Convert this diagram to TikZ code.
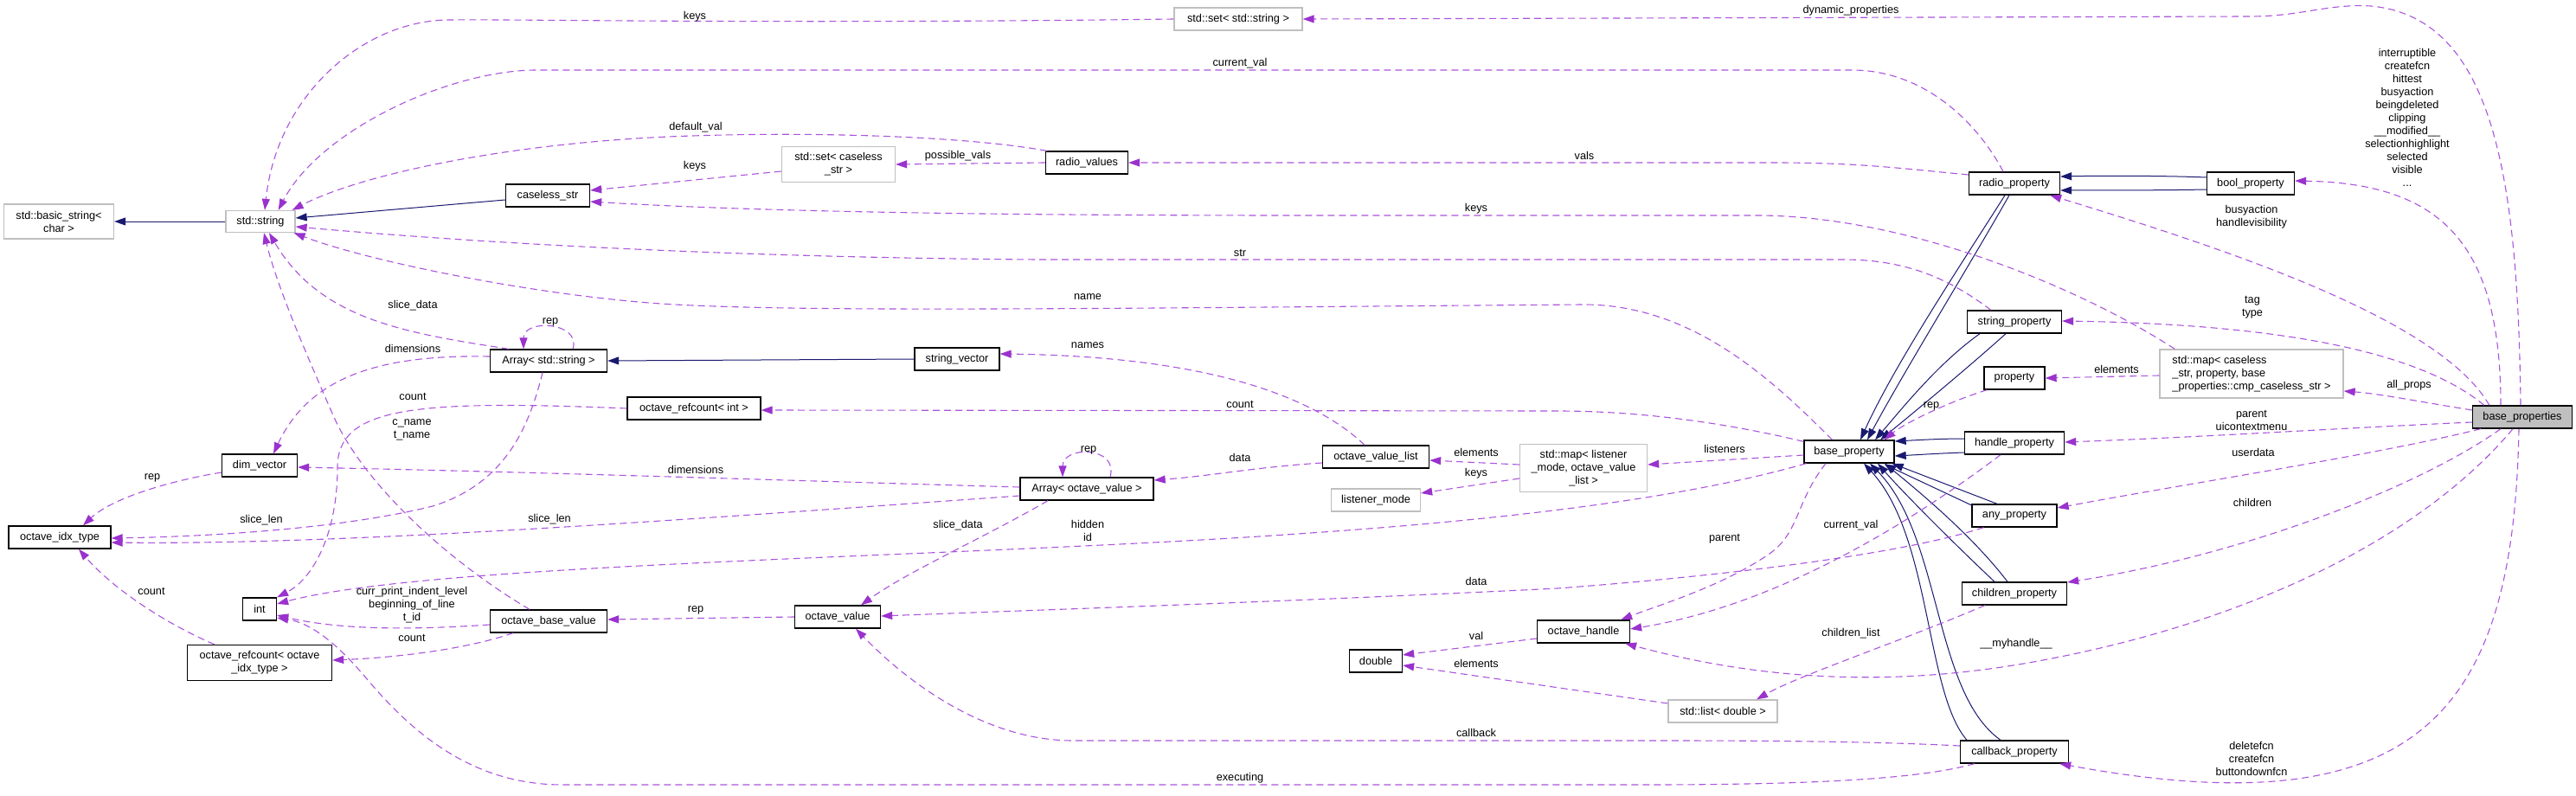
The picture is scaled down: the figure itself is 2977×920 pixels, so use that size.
\documentclass[tikz,border=0pt]{standalone}
\usepackage{fontspec}
\setmainfont{Liberation Sans}
\usetikzlibrary{arrows.meta,calc}
\definecolor{usecol}{RGB}{170,84,220}
\definecolor{usearr}{RGB}{154,50,205}
\definecolor{inhcol}{RGB}{25,25,112}
\definecolor{grayb}{RGB}{191,191,191}
\definecolor{gfill}{RGB}{191,191,191}
\newcommand\lblfont{\fontsize{12.7}{15}\selectfont}
\begin{document}
\begin{tikzpicture}[x=1pt,y=-1pt,
  box/.style={draw=black, line width=1.3pt, fill=white, minimum height=26pt, inner xsep=2pt, inner ysep=2pt, font=\lblfont, align=center},
  gbox/.style={box, draw=grayb},
  lab/.style={font=\lblfont, align=center, inner sep=0pt},
  use/.style={draw=usecol, line width=1.1pt, dash pattern=on 8pt off 5pt, -{Triangle[length=13pt,width=9pt,color=usearr]}},
  inh/.style={draw=inhcol, line width=1pt, -{Triangle[length=13pt,width=9pt,color=inhcol]}}]
\useasboundingbox (0,0) rectangle (2977,920);
% nodes
\node[gbox, minimum width=127pt, minimum height=40pt] (bstr) at (68,256) {std::basic\_string<\\char >};
\node[gbox, minimum width=80pt, minimum height=25pt] (str) at (301,256) {std::string};
\node[box, minimum width=97pt] (cstr) at (633,226) {caseless\_str};
\node[box, minimum width=135pt] (astr) at (634,417) {Array< std::string >};
\node[box, minimum width=87pt] (dimv) at (300,538) {dim\_vector};
\node[box, minimum width=118pt] (idx) at (69,621) {octave\_idx\_type};
\node[box, minimum width=39pt] (int) at (300,704) {int};
\node[box, minimum width=167pt, minimum height=41pt] (rcidx) at (300,766) {octave\_refcount< octave\\\_idx\_type >};
\node[box, minimum width=135pt] (obv) at (634,718) {octave\_base\_value};
\node[box, minimum width=154pt] (rcint) at (802,472) {octave\_refcount< int >};
\node[gbox, minimum width=148pt] (setstr) at (1431,22) {std::set< std::string >};
\node[gbox, minimum width=131pt, minimum height=41pt] (setcs) at (969,190) {std::set< caseless\\\_str >};
\node[box, minimum width=95pt] (rval) at (1256,188) {radio\_values};
\node[box, minimum width=98pt] (svec) at (1106,415) {string\_vector};
\node[box, minimum width=154pt] (aov) at (1256,565) {Array< octave\_value >};
\node[box, minimum width=99pt] (ov) at (968,713) {octave\_value};
\node[box, minimum width=123pt] (ovl) at (1590,528) {octave\_value\_list};
\node[gbox, minimum width=103pt] (lmode) at (1590,578) {listener\_mode};
\node[gbox, minimum width=147pt, minimum height=55pt] (lmap) at (1830,541) {std::map< listener\\\_mode, octave\_value\\\_list >};
\node[box, minimum width=104pt] (bprop) at (2137,522) {base\_property};
\node[box, minimum width=107pt] (ohdl) at (1830,730) {octave\_handle};
\node[box, minimum width=61pt] (dbl) at (1590,764) {double};
\node[gbox, minimum width=126pt] (ldbl) at (1991,822) {std::list< double >};
\node[box, minimum width=105pt] (rprop) at (2328,212) {radio\_property};
\node[box, minimum width=101pt] (boolp) at (2601,212) {bool\_property};
\node[box, minimum width=109pt] (sprop) at (2328,372) {string\_property};
\node[box, minimum width=70pt] (prop) at (2328,437) {property};
\node[box, minimum width=115pt] (hprop) at (2328,512) {handle\_property};
\node[box, minimum width=98pt] (anyp) at (2328,596) {any\_property};
\node[box, minimum width=121pt] (chp) at (2328,686) {children\_property};
\node[box, minimum width=125pt] (cbp) at (2328,869) {callback\_property};
\node[gbox, minimum width=212pt, minimum height=56pt, align=left] (cmap) at (2602,432) {std::map< caseless\\\_str, property, base\\\_properties::cmp\_caseless\_str >};
\node[box, fill=gfill, minimum width=115pt] (bps) at (2915,482) {base\_properties};
% inheritance
\draw[inh] (str.west) -- (bstr.east);
\draw[inh] ($(cstr.west)+(0,5)$) -- ($(str.east)+(0,-4)$);
\draw[inh] (svec.west) -- (astr.east);
\draw[inh] ($(boolp.west)+(0,-7)$) .. controls (2500,203) and (2430,203) .. ($(rprop.east)+(0,-8)$);
\draw[inh] ($(boolp.west)+(0,7)$) .. controls (2500,220) and (2430,220) .. ($(rprop.east)+(0,8)$);
\draw[inh] ($(rprop.south)+(-11,0)$) .. controls (2270,300) and (2190,420) .. ($(bprop.north)+(13,0)$);
\draw[inh] ($(rprop.south)+(-6,0)$) .. controls (2280,300) and (2200,430) .. ($(bprop.north)+(21,0)$);
\draw[inh] ($(sprop.south)+(-40,0)$) .. controls (2240,420) and (2200,470) .. ($(bprop.north)+(30,0)$);
\draw[inh] ($(sprop.south)+(-10,0)$) .. controls (2280,420) and (2220,470) .. ($(bprop.north)+(36,0)$);
\draw[inh] ($(hprop.west)+(0,-5)$) .. controls (2240,507) and (2210,509) .. ($(bprop.east)+(0,-12)$);
\draw[inh] ($(hprop.west)+(0,11)$) .. controls (2240,524) and (2210,526) .. ($(bprop.east)+(0,5)$);
\draw[inh] ($(anyp.north)+(-20,0)$) -- ($(bprop.south east)+(-3,0)$);
\draw[inh] ($(anyp.north west)+(1,2)$) -- ($(bprop.south east)+(-12,1)$);
\draw[inh] ($(chp.north)+(-23,0)$) .. controls (2260,630) and (2200,570) .. ($(bprop.south)+(33,0)$);
\draw[inh] ($(chp.north)+(-8,0)$) .. controls (2280,620) and (2220,570) .. ($(bprop.south)+(41,0)$);
\draw[inh] ($(cbp.north)+(-55,0)$) .. controls (2225,800) and (2232,620) .. ($(bprop.south)+(17,0)$);
\draw[inh] ($(cbp.north)+(-16,0)$) .. controls (2234,800) and (2244,620) .. ($(bprop.south)+(24,0)$);
% usage
\draw[use] (setstr.west) .. controls (900,28) and (600,22) .. (520,23) .. controls (420,23) and (320,110) .. ($(str.north)+(5,0)$);
\draw[use] ($(rprop.north)+(-13,0)$) .. controls (2290,150) and (2230,81) .. (2140,81) -- (620,81) .. controls (520,81) and (370,150) .. ($(str.north east)+(-20,0)$);
\draw[use] ($(rval.north west)+(2,0)$) .. controls (1120,158) and (950,152) .. (800,157) .. controls (600,163) and (420,200) .. ($(str.north east)+(-4,0)$);
\draw[use] ($(setcs.west)+(0,8)$) -- ($(cstr.east)+(0,-6)$);
\draw[use] ($(cmap.north west)+(18,0)$) .. controls (2400,330) and (2200,249) .. (2030,249) -- (1500,249) .. controls (1000,249) and (800,240) .. ($(cstr.east)+(0,7)$);
\draw[use] ($(sprop.north west)+(28,0)$) .. controls (2250,320) and (2200,300) .. (2130,300) -- (1200,300) .. controls (900,298) and (600,285) .. ($(str.east)+(0,6)$);
\draw[use] ($(bprop.north west)+(33,0)$) .. controls (2040,430) and (1950,352) .. (1830,352) .. controls (1300,356) and (900,362) .. (750,350) .. controls (600,338) and (420,300) .. ($(str.south east)+(-2,0)$);
\draw[use] ($(astr.north west)+(22,0)$) .. controls (470,385) and (370,370) .. ($(str.south)+(10,0)$);
\draw[use] ($(obv.north)+(-22,0)$) .. controls (520,650) and (420,560) .. (385,480) .. controls (350,400) and (320,330) .. ($(str.south)+(4,0)$);
\draw[use] ($(astr.west)+(0,-5)$) .. controls (450,410) and (360,430) .. ($(dimv.north)+(16,0)$);
\draw[use] ($(dimv.west)+(0,8)$) .. controls (200,555) and (130,575) .. ($(idx.north)+(27,0)$);
\draw[use] ($(astr.south)+(-7,0)$) .. controls (610,500) and (580,560) .. (500,585) .. controls (400,610) and (250,620) .. ($(idx.east)+(0,1)$);
\draw[use] ($(aov.west)+(0,8)$) .. controls (800,600) and (400,630) .. ($(idx.east)+(0,6)$);
\draw[use] ($(rcidx.north west)+(32,0)$) .. controls (190,720) and (130,680) .. ($(idx.south)+(22,0)$);
\draw[use] (rcint.west) .. controls (480,462) and (390,470) .. (390,540) .. controls (390,620) and (360,670) .. (int.north east);
\draw[use] ($(obv.west)+(0,4)$) .. controls (450,730) and (380,725) .. ($(int.east)+(0,7)$);
\draw[use] ($(obv.south)+(-41,0)$) .. controls (540,750) and (460,760) .. ($(rcidx.east)+(0,-3)$);
\draw[use] ($(cbp.south west)+(17,0)$) .. controls (2220,900) and (2100,907) .. (1900,907) -- (650,907) .. controls (540,907) and (470,840) .. (420,780) .. controls (390,745) and (360,720) .. ($(int.east)+(0,10)$);
\draw[use] ($(bprop.south west)+(3,0)$) .. controls (1950,575) and (1750,600) .. (1500,617) .. controls (1100,645) and (500,650) .. ($(int.east)+(0,-6)$);
\draw[use] (ov.west) -- ($(obv.east)+(0,-2)$);
\draw[use] ($(aov.south)+(-45,0)$) .. controls (1140,620) and (1050,660) .. ($(ov.north)+(27,0)$);
\draw[use] ($(astr.north)+(28,0)$) .. controls (672,372) and (605,368) .. ($(astr.north)+(-29,0)$);
\draw[use] ($(aov.north)+(27,0)$) .. controls (1293,515) and (1228,515) .. ($(aov.north)+(-28,0)$);
\draw[use] ($(ovl.west)+(0,7)$) .. controls (1450,540) and (1400,550) .. ($(aov.east)+(0,-10)$);
\draw[use] ($(aov.west)+(0,-2)$) .. controls (900,555) and (600,545) .. ($(dimv.east)+(0,2)$);
\draw[use] ($(anyp.south west)+(14,0)$) .. controls (2200,640) and (2000,665) .. (1800,680) .. controls (1500,695) and (1200,705) .. ($(ov.east)+(0,-1)$);
\draw[use] ($(cbp.west)+(0,-7)$) .. controls (2150,856) and (2000,856) .. (1900,856) -- (1240,856) .. controls (1140,856) and (1050,790) .. ($(ov.south)+(21,0)$);
\draw[use] ($(ovl.north)+(-13,0)$) .. controls (1520,460) and (1400,412) .. ($(svec.east)+(0,-6)$);
\draw[use] ($(bprop.north west)+(0,2)$) .. controls (2000,490) and (1900,475) .. (1800,475) -- ($(rcint.east)+(0,2)$);
\draw[use] ($(lmap.west)+(0,-4)$) -- ($(ovl.east)+(0,4)$);
\draw[use] ($(lmap.west)+(0,12)$) -- ($(lmode.east)+(0,-8)$);
\draw[use] ($(bprop.west)+(0,4)$) -- ($(lmap.east)+(0,-4)$);
\draw[use] ($(bprop.south)+(-27,0)$) .. controls (2075,580) and (2080,615) .. (2045,640) .. controls (1990,678) and (1915,700) .. ($(ohdl.north east)+(-11,0)$);
\draw[use] ($(hprop.south)+(-16,0)$) .. controls (2200,610) and (2050,700) .. ($(ohdl.east)+(0,-3)$);
\draw[use] ($(bps.south)+(-11,0)$) .. controls (2800,620) and (2600,720) .. (2350,765) .. controls (2200,792) and (2050,790) .. ($(ohdl.south east)+(-6,0)$);
\draw[use] ($(ohdl.west)+(0,8)$) -- ($(dbl.east)+(0,-7)$);
\draw[use] ($(ldbl.west)+(0,-9)$) -- ($(dbl.east)+(0,5)$);
\draw[use] ($(chp.south west)+(27,0)$) .. controls (2200,740) and (2080,780) .. ($(ldbl.north)+(39,0)$);
\draw[use] ($(rprop.west)+(0,-10)$) .. controls (2200,195) and (2150,188) .. (2050,188) -- (rval.east);
\draw[use] (rval.west) -- (setcs.east);
\draw[use] ($(cmap.west)+(0,2)$) -- (prop.east);
\draw[use] ($(prop.south west)+(4,0)$) .. controls (2250,465) and (2200,490) .. ($(bprop.north east)+(-12,0)$);
\draw[use] ($(bps.north)+(-2,0)$) .. controls (2910,200) and (2880,20) .. (2740,7) .. controls (2690,4) and (2660,19) .. (2600,19) -- (setstr.east);
\draw[use] ($(bps.north)+(-25,0)$) .. controls (2890,280) and (2820,212) .. ($(boolp.east)+(0,-3)$);
\draw[use] ($(bps.north west)+(20,0)$) .. controls (2820,370) and (2580,290) .. ($(rprop.south east)+(-12,0)$);
\draw[use] ($(bps.north west)+(14,0)$) .. controls (2800,410) and (2650,375) .. ($(sprop.east)+(0,-1)$);
\draw[use] ($(bps.west)+(0,-8)$) .. controls (2800,465) and (2750,455) .. ($(cmap.east)+(0,20)$);
\draw[use] ($(bps.west)+(0,6)$) .. controls (2700,495) and (2550,505) .. ($(hprop.east)+(0,-1)$);
\draw[use] ($(bps.south west)+(10,0)$) .. controls (2750,525) and (2550,555) .. ($(anyp.east)+(0,-9)$);
\draw[use] ($(bps.south)+(-25,0)$) .. controls (2800,560) and (2600,640) .. ($(chp.east)+(0,-13)$);
\draw[use] ($(bps.south)+(-4,0)$) .. controls (2905,820) and (2800,960) .. ($(cbp.south east)+(-11,0)$);
% labels
\node[lab] (lb1) at (803,19) {keys};
\node[lab] (lb2) at (1433,73) {current\_val};
\node[lab] (lb3) at (804,147) {default\_val};
\node[lab] (lb4) at (1107,180) {possible\_vals};
\node[lab] (lb5) at (803,192) {keys};
\node[lab] (lb6) at (1831,180) {vals};
\node[lab] (lb7) at (1706,241) {keys};
\node[lab] (lb8) at (1433,292) {str};
\node[lab] (lb9) at (1257,343) {name};
\node[lab] (lb10) at (477,353) {slice\_data};
\node[lab] (lb11) at (636,372) {rep};
\node[lab] (lb12) at (1257,399) {names};
\node[lab] (lb13) at (477,403) {dimensions};
\node[lab] (lb14) at (477,458) {count};
\node[lab] (lb15) at (1433,467) {count};
\node[lab] (lb16) at (2232,469) {rep};
\node[lab] (lb17) at (476,497) {c\_name\\t\_name};
\node[lab] (lb18) at (1993,519) {listeners};
\node[lab] (lb19) at (1258,520) {rep};
\node[lab] (lb20) at (1433,529) {data};
\node[lab] (lb21) at (1706,523) {elements};
\node[lab] (lb22) at (804,543) {dimensions};
\node[lab] (lb23) at (1706,547) {keys};
\node[lab] (lb24) at (176,552) {rep};
\node[lab] (lb25) at (302,601) {slice\_len};
\node[lab] (lb26) at (635,600) {slice\_len};
\node[lab] (lb27) at (1107,607) {slice\_data};
\node[lab] (lb28) at (1257,613) {hidden\\id};
\node[lab] (lb29) at (2139,607) {current\_val};
\node[lab] (lb30) at (1993,623) {parent};
\node[lab] (lb31) at (1706,672) {data};
\node[lab] (lb32) at (175,683) {count};
\node[lab] (lb33) at (476,699) {curr\_print\_indent\_level\\beginning\_of\_line\\t\_id};
\node[lab] (lb34) at (804,705) {rep};
\node[lab] (lb35) at (1706,735) {val};
\node[lab] (lb36) at (2139,732) {children\_list};
\node[lab] (lb37) at (476,737) {count};
\node[lab] (lb38) at (2330,744) {\_\_myhandle\_\_};
\node[lab] (lb39) at (1706,767) {elements};
\node[lab] (lb40) at (1706,847) {callback};
\node[lab] (lb41) at (1433,899) {executing};
\node[lab] (lb42) at (2139,12) {dynamic\_properties};
\node[lab] (lb43) at (2782,136) {interruptible\\createfcn\\hittest\\busyaction\\beingdeleted\\clipping\\\_\_modified\_\_\\selectionhighlight\\selected\\visible\\...};
\node[lab] (lb44) at (2602,251) {busyaction\\handlevisibility};
\node[lab] (lb45) at (2603,355) {tag\\type};
\node[lab] (lb46) at (2446,427) {elements};
\node[lab] (lb47) at (2784,445) {all\_props};
\node[lab] (lb48) at (2602,486) {parent\\uicontextmenu};
\node[lab] (lb49) at (2604,523) {userdata};
\node[lab] (lb50) at (2603,581) {children};
\node[lab] (lb51) at (2602,877) {deletefcn\\createfcn\\buttondownfcn};
\end{tikzpicture}
\end{document}
